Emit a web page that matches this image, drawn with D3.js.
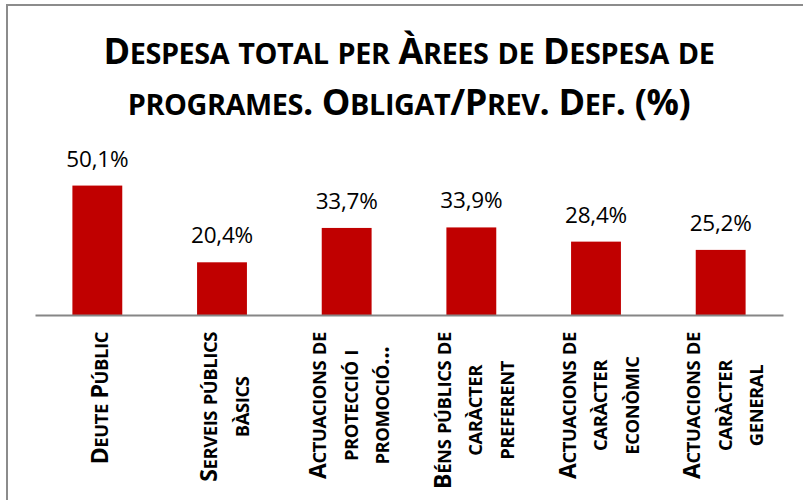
<!DOCTYPE html>
<html lang="ca">
<head>
    <meta charset="UTF-8">
    <title>Despesa total per Àrees de Despesa de programes</title>
    <script src="https://d3js.org/d3.v7.min.js"></script>
    <style>
body {
    margin: 0;
    background: #fff;
}
svg {
    display: block;
    font-family: "Open Sans", Lato, Arial, sans-serif;
}
    </style>
</head>
<body>
    <svg id="chart" width="803" height="500"></svg>

    <script>
// data
const titleLines = ["Despesa total per Àrees de Despesa de", "programes. Obligat/Prev. Def. (%)"];
const categories = ["Deute Públic", "Serveis públics bàsics", "Actuacions de protecció i promoció...",
    "Béns públics de caràcter preferent", "Actuacions de caràcter econòmic", "Actuacions de caràcter general"];
// how each category label is wrapped on the axis
const labelLines = [
    ["Deute Públic"],
    ["Serveis públics", "bàsics"],
    ["Actuacions de", "protecció i", "promoció..."],
    ["Béns públics de", "caràcter", "preferent"],
    ["Actuacions de", "caràcter", "econòmic"],
    ["Actuacions de", "caràcter", "general"]
];
const values = [50.1, 20.4, 33.7, 33.9, 28.4, 25.2];

const width = 803;
const height = 500;
const plot = { left: 35, right: 783, top: 160, bottom: 315 };

const svg = d3.select("#chart");

const ca = d3.formatLocale({ decimal: ",", thousands: ".", grouping: [3], currency: ["", " €"] });
const fmt = v => ca.format(".1f")(v) + "%";

const x = d3.scaleBand()
    .domain(categories)
    .range([plot.left, plot.right])
    .paddingInner(0.6)
    .paddingOuter(0.3);

const y = d3.scaleLinear()
    .domain([0, 60])
    .range([plot.bottom, plot.top]);

// fake small caps: lower case letters become upper case at a smaller size
function smallCaps(sel, str, size) {
    const runs = [];
    for (const c of str) {
        const small = c !== c.toUpperCase();
        const last = runs[runs.length - 1];
        if (last && last.small === small) last.text += c.toUpperCase();
        else runs.push({ small: small, text: c.toUpperCase() });
    }
    sel.selectAll("tspan.sc")
        .data(runs)
        .join("tspan")
        .attr("class", "sc")
        .attr("font-size", d => d.small ? size * 0.8 : size)
        .text(d => d.text);
}

// chart frame (runs off the right and bottom of the picture)
svg.append("rect")
    .attr("x", 7)
    .attr("y", 5)
    .attr("width", width)
    .attr("height", height)
    .attr("fill", "none")
    .attr("stroke", "#8c8c8c")
    .attr("stroke-width", 2);

// title
const title = svg.append("g").attr("font-weight", "bold").attr("fill", "#000");
titleLines.forEach((line, i) => {
    title.append("text")
        .attr("x", (plot.left + plot.right) / 2)
        .attr("y", 64 + i * 51)
        .attr("text-anchor", "middle")
        .attr("letter-spacing", -0.4)
        .call(smallCaps, line, 36);
});

// bars
svg.append("g")
    .selectAll("rect")
    .data(values)
    .join("rect")
    .attr("x", (d, i) => x(categories[i]))
    .attr("y", d => y(d))
    .attr("width", x.bandwidth())
    .attr("height", d => y(0) - y(d))
    .attr("fill", "#c00000");

// value labels
svg.append("g")
    .selectAll("text")
    .data(values)
    .join("text")
    .attr("x", (d, i) => x(categories[i]) + x.bandwidth() / 2)
    .attr("y", d => y(d) - 19)
    .attr("text-anchor", "middle")
    .attr("font-size", 22.5)
    .attr("letter-spacing", -0.2)
    .attr("fill", "#000")
    .text(fmt);

// category axis
const axis = svg.append("g")
    .attr("transform", "translate(0," + plot.bottom + ")")
    .call(d3.axisBottom(x).tickSize(0).tickFormat(""));
axis.select(".domain").attr("stroke", "#868686").attr("stroke-width", 2);

const lineGap = 31.5;
const labels = svg.append("g")
    .attr("font-weight", "bold")
    .attr("fill", "#000")
    .selectAll("g")
    .data(categories)
    .join("g")
    .attr("transform", d => "translate(" + (x(d) + x.bandwidth() / 2) + "," + (plot.bottom + 17) + ") rotate(-90)");

labels.each(function(d, i) {
    const g = d3.select(this);
    const lines = labelLines[i];
    const texts = lines.map((line, k) => g.append("text")
        .attr("text-anchor", "middle")
        .attr("y", 11 + (k - (lines.length - 1) / 2) * lineGap)
        .attr("letter-spacing", -0.4)
        .call(smallCaps, line, 23));
    const maxLen = d3.max(texts, t => t.node().getComputedTextLength());
    texts.forEach(t => t.attr("x", -maxLen / 2));
});
    </script>
</body>
</html>
